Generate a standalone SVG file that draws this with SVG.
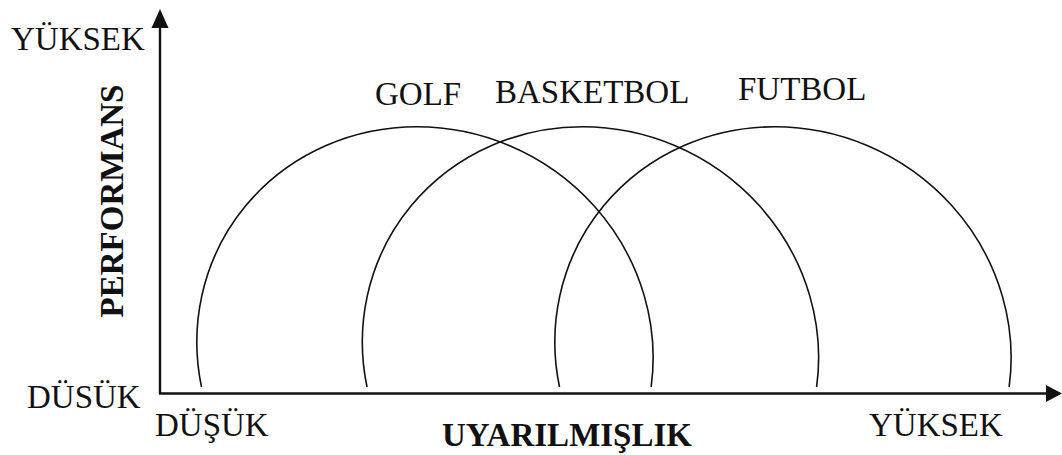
<svg xmlns="http://www.w3.org/2000/svg" width="1062" height="455" viewBox="0 0 1062 455">
<style>
.t{font-family:"Liberation Serif","Times New Roman",serif;font-size:33px;fill:#111}
.b{font-family:"Liberation Serif","Times New Roman",serif;font-size:33px;font-weight:bold;fill:#111}
.arc{fill:none;stroke:#111;stroke-width:1.6}
.ax{stroke:#111;stroke-width:2.4;fill:none}
</style>
<rect width="1062" height="455" fill="#fff"/>
<g id="axes">
<line class="ax" x1="160" y1="394" x2="160" y2="26"/>
<polygon points="160,9 151.5,28 168.5,28" fill="#111"/>
<line class="ax" x1="159" y1="393.5" x2="1047" y2="393.5"/>
<polygon points="1062,393.5 1046,385 1046,402" fill="#111"/>
</g>
<g id="connectors" transform="translate(-12.6,0) skewX(2.06)">
<path id="golf-arc" class="arc" d="M 200.2 387 A 228 223 0 1 1 649.8 387"/>
<path id="basketbol-arc" class="arc" d="M 365.7 387 A 228 223 0 1 1 815.3 387"/>
<path id="futbol-arc" class="arc" d="M 558.2 387 A 228 223 0 1 1 1007.8 387"/>
</g>
<g id="golf"><text class="t" x="375" y="105">GOLF</text></g>
<g id="basketbol"><text class="t" x="495" y="103">BASKETBOL</text></g>
<g id="futbol"><text class="t" x="738" y="100">FUTBOL</text></g>
<g id="labels">
<text class="t" x="11" y="50">YÜKSEK</text>
<text class="t" x="27" y="408">DÜSÜK</text>
<text class="t" x="155" y="436">DÜŞÜK</text>
<text class="t" x="869" y="436">YÜKSEK</text>
<text class="b" x="567" y="446" text-anchor="middle">UYARILMIŞLIK</text>
<text class="b" transform="translate(123,201) rotate(-90)" text-anchor="middle">PERFORMANS</text>
</g>
</svg>
